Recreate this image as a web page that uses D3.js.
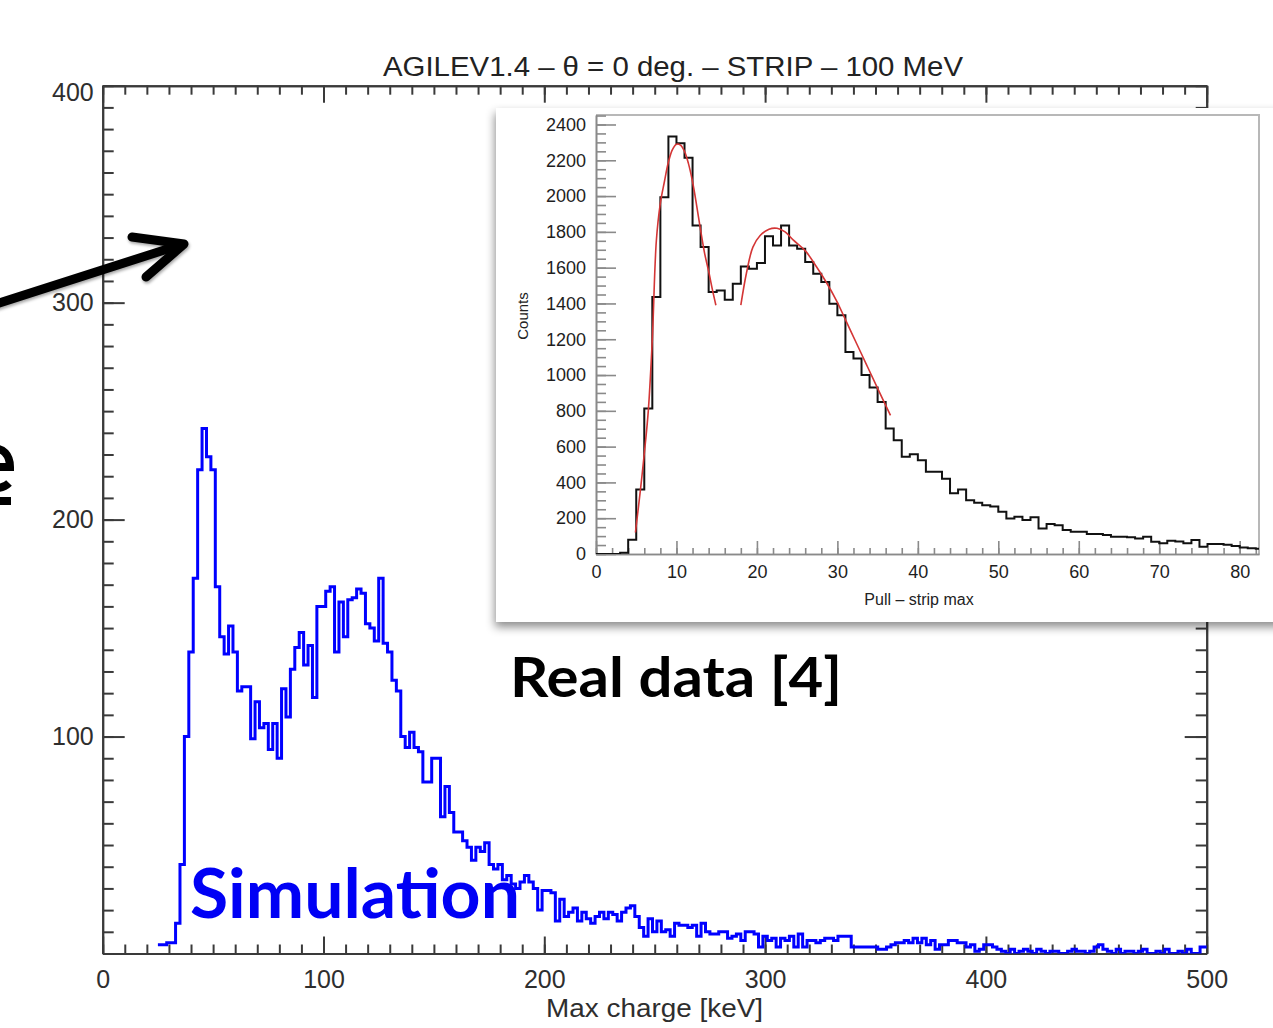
<!DOCTYPE html>
<html>
<head>
<meta charset="utf-8">
<script src="https://cdn.jsdelivr.net/npm/d3@7"></script>
<style>
  body { margin: 0; background: #fff; }
</style>
</head>
<body>
<svg id="chart" width="1273" height="1028"></svg>
<script>

// simulation histogram: bins of 2 keV starting at 25 keV
const simStart = 25
const simBin = 2
const simCounts = [
  4, 4, 5, 5, 14, 41, 100, 139, 173, 223,
  242, 229, 223, 169, 146, 138, 151, 139, 121, 123,
  123, 99, 116, 104, 106, 94, 106, 90, 122, 109,
  131, 141, 148, 133, 142, 118, 160, 160, 167, 169,
  139, 162, 146, 163, 164, 168, 166, 152, 150, 144,
  173, 143, 139, 126, 121, 100, 95, 102, 95, 93,
  79, 79, 90, 90, 63, 77, 65, 56, 56, 52,
  49, 43, 49, 47, 51, 41, 39, 41, 34, 36,
  32, 30, 33, 36, 33, 30, 20, 29, 29, 28,
  15, 25, 17, 19, 21, 15, 19, 16, 14, 17,
  19, 16, 19, 18, 15, 19, 21, 22, 17, 12,
  8, 16, 10, 15, 10, 11, 8, 14, 13, 13,
  12, 13, 8, 14, 10, 9, 9, 10, 10, 7,
  8, 9, 6, 10, 10, 9, 3, 8, 6, 7,
  3, 7, 6, 8, 3, 9, 3, 6, 6, 5,
  6, 7, 7, 6, 8, 8, 8, 3, 3, 3,
  3, 3, 3, 2, 2, 3, 4, 5, 5, 6,
  5, 7, 5, 7, 4, 6, 2, 4, 4, 6,
  6, 5, 5, 3, 4, 1, 2, 4, 4, 3,
  2, 1, 0, 2, 0, 1, 2, 1, 0, 2,
  1, 0, 1, 1, 0, 0, 1, 2, 1, 1,
  0, 1, 3, 4, 2, 1, 0, 2, 0, 1,
  1, 0, 1, 2, 0, 0, 1, 0, 2, 0,
  0, 1, 0, 2, 0, 0, 3, 3
]

// real data (inset): bins of width 1 starting at 0
const realStart = 0
const realBin = 1
const realCounts = [
  0, 0, 0, 7, 80, 360, 813, 1436, 1994, 2333,
  2295, 2214, 1836, 1715, 1464, 1473, 1421, 1510, 1607, 1594,
  1626, 1775, 1724, 1836, 1724, 1706, 1631, 1566, 1520, 1399,
  1334, 1129, 1092, 1000, 930, 850, 701, 636, 543, 558,
  524, 459, 459, 420, 339, 361, 301, 286, 273, 265,
  236, 199, 208, 190, 205, 143, 167, 160, 134, 125,
  125, 112, 112, 106, 97, 97, 94, 87, 97, 69,
  60, 74, 70, 60, 78, 41, 56, 56, 52, 45,
  37, 32, 30
]

// red fit curves
const fit1X = [4.9, 5.5, 6.0, 6.5, 7.0, 7.5, 8.0, 8.5, 9.0, 9.5, 10.0, 10.5, 11.0, 11.5, 12.0, 12.5, 13.0, 13.5, 14.0, 14.5, 14.9]
const fit1Y = [120, 350, 560, 800, 1200, 1750, 1960, 2080, 2190, 2260, 2290, 2285, 2250, 2180, 2080, 1950, 1810, 1680, 1580, 1470, 1390]
const fit2X = [18.0, 18.7, 19.5, 20.4, 21.5, 22.5, 23.5, 24.5, 26.0, 27.4, 28.6, 29.9, 31.1, 32.4, 33.6, 34.9, 36.6]
const fit2Y = [1390, 1570, 1715, 1780, 1815, 1820, 1800, 1755, 1695, 1605, 1520, 1415, 1300, 1175, 1060, 935, 775]

// tick labels
const mainXTicks = [0, 100, 200, 300, 400, 500]
const mainYTicks = [100, 200, 300, 400]
const insetXTicks = [0, 10, 20, 30, 40, 50, 60, 70, 80]
const insetYTicks = [0, 200, 400, 600, 800, 1000, 1200, 1400, 1600, 1800, 2000, 2200, 2400]

const titleText = "AGILEV1.4 \u2013 \u03B8 = 0 deg. \u2013 STRIP \u2013 100 MeV"
const xTitleText = "Max charge [keV]"

var svg = d3.select("#chart")
var axisColor = "#3a3a3a"
var labelFont = "'Liberation Sans', Arial, sans-serif"

svg.append("rect").attr("width", 1273).attr("height", 1028).attr("fill", "#fff")

var defs = svg.append("defs")
defs.append("filter").attr("id", "shadow")
  .attr("x", "-10%").attr("y", "-10%").attr("width", "130%").attr("height", "130%")
  .append("feDropShadow")
  .attr("dx", -1).attr("dy", 5).attr("stdDeviation", 5)
  .attr("flood-color", "#000").attr("flood-opacity", 0.45)
defs.append("filter").attr("id", "arrowShadow")
  .append("feDropShadow")
  .attr("dx", 1).attr("dy", 2).attr("stdDeviation", 1.5)
  .attr("flood-color", "#000").attr("flood-opacity", 0.35)

// ---------- main plot ----------
var x = d3.scaleLinear().domain([0, 500]).range([102.7, 1206.7])
var y = d3.scaleLinear().domain([0, 400]).range([953.5, 85.7])

defs.append("clipPath").attr("id", "mainClip")
  .append("rect")
  .attr("x", x(0)).attr("y", y(400))
  .attr("width", x(500) - x(0)).attr("height", y(0) - y(400))

var main = svg.append("g")

function styleAxis(g, size) {
  g.selectAll("path, line").attr("stroke", axisColor).attr("stroke-width", 2)
  g.selectAll("text")
    .attr("fill", "#2e2e2e")
    .style("font-family", labelFont)
    .style("font-size", size + "px")
}

// bottom
main.append("g").attr("transform", "translate(0," + y(0) + ")")
  .call(d3.axisBottom(x).tickValues(x.ticks(50)).tickSize(-9).tickSizeOuter(0).tickFormat(""))
  .call(styleAxis, 25)
main.append("g").attr("transform", "translate(0," + y(0) + ")")
  .call(d3.axisBottom(x).tickValues(mainXTicks).tickSize(-17).tickSizeOuter(0).tickPadding(17))
  .call(styleAxis, 25)
// top
main.append("g").attr("transform", "translate(0," + y(400) + ")")
  .call(d3.axisTop(x).tickValues(x.ticks(50)).tickSize(-9).tickSizeOuter(0).tickFormat(""))
  .call(styleAxis, 25)
main.append("g").attr("transform", "translate(0," + y(400) + ")")
  .call(d3.axisTop(x).tickValues(mainXTicks).tickSize(-17).tickSizeOuter(0).tickFormat(""))
  .call(styleAxis, 25)
// left
main.append("g").attr("transform", "translate(" + x(0) + ",0)")
  .call(d3.axisLeft(y).tickValues(y.ticks(40)).tickSize(-11).tickSizeOuter(0).tickFormat(""))
  .call(styleAxis, 25)
var yAxisG = main.append("g").attr("transform", "translate(" + x(0) + ",0)")
  .call(d3.axisLeft(y).tickValues(mainYTicks).tickSize(-22).tickSizeOuter(0).tickPadding(9))
  .call(styleAxis, 25)
// the top label sits a little below the frame corner
yAxisG.selectAll(".tick text").filter(function(d) { return d === 400 }).attr("dy", "0.6em")
// right
main.append("g").attr("transform", "translate(" + x(500) + ",0)")
  .call(d3.axisRight(y).tickValues(y.ticks(40)).tickSize(-11).tickSizeOuter(0).tickFormat(""))
  .call(styleAxis, 25)
main.append("g").attr("transform", "translate(" + x(500) + ",0)")
  .call(d3.axisRight(y).tickValues(mainYTicks).tickSize(-22).tickSizeOuter(0).tickFormat(""))
  .call(styleAxis, 25)

// titles
svg.append("text")
  .attr("x", 383).attr("y", 76)
  .attr("textLength", 580).attr("lengthAdjust", "spacingAndGlyphs")
  .style("font-family", labelFont).style("font-size", "27px")
  .attr("fill", "#222")
  .text(titleText)

svg.append("text")
  .attr("x", 546).attr("y", 1017)
  .attr("textLength", 217).attr("lengthAdjust", "spacingAndGlyphs")
  .style("font-family", labelFont).style("font-size", "26px")
  .attr("fill", "#2e2e2e")
  .text(xTitleText)

// simulation histogram
var simPts = simCounts.map(function(c, i) { return [simStart + i * simBin, c] })
simPts.push([simStart + simCounts.length * simBin, simCounts[simCounts.length - 1]])

var simLine = d3.line()
  .x(function(d) { return x(d[0]) })
  .y(function(d) { return y(d[1]) })
  .curve(d3.curveStepAfter)

main.append("path")
  .datum(simPts)
  .attr("clip-path", "url(#mainClip)")
  .attr("fill", "none")
  .attr("stroke", "#0000ff")
  .attr("stroke-width", 3)
  .attr("d", simLine)

svg.append("text")
  .attr("x", 190).attr("y", 918)
  .attr("textLength", 330).attr("lengthAdjust", "spacingAndGlyphs")
  .style("font-family", "Lato, 'Open Sans', sans-serif")
  .style("font-weight", 700).style("font-size", "68px")
  .attr("fill", "#0000f5")
  .text("Simulation")

// ---------- inset (real data) ----------
var inset = svg.append("g")

inset.append("rect")
  .attr("x", 496).attr("y", 108)
  .attr("width", 800).attr("height", 514)
  .attr("fill", "#fff")
  .attr("filter", "url(#shadow)")

var ix = d3.scaleLinear().domain([0, 82.4]).range([596, 1259])
var iy = d3.scaleLinear().domain([0, 2453]).range([554, 115])

defs.append("clipPath").attr("id", "insetClip")
  .append("rect")
  .attr("x", ix(0)).attr("y", iy(2453))
  .attr("width", ix(82.4) - ix(0)).attr("height", iy(0) - iy(2453))

// frame top and right (light)
inset.append("path")
  .attr("d", "M" + ix(0) + "," + iy(2453) + "H" + ix(82.4) + "V" + iy(0))
  .attr("fill", "none").attr("stroke", "#b8b8b8").attr("stroke-width", 2)

var insetAxisColor = "#8a8a8a"
function styleInset(g) {
  g.selectAll("path, line").attr("stroke", insetAxisColor).attr("stroke-width", 1.6)
  g.selectAll("text")
    .attr("fill", "#1e1e1e")
    .style("font-family", labelFont)
    .style("font-size", "18px")
}

inset.append("g").attr("transform", "translate(0," + iy(0) + ")")
  .call(d3.axisBottom(ix).tickValues(d3.range(0, 83, 2)).tickSize(-6).tickSizeOuter(0).tickFormat(""))
  .call(styleInset)
inset.append("g").attr("transform", "translate(0," + iy(0) + ")")
  .call(d3.axisBottom(ix).tickValues(insetXTicks).tickSize(-13).tickSizeOuter(0).tickPadding(11).tickFormat(d3.format("d")))
  .call(styleInset)
inset.append("g").attr("transform", "translate(" + ix(0) + ",0)")
  .call(d3.axisLeft(iy).tickValues(iy.ticks(48)).tickSize(-10).tickSizeOuter(0).tickFormat(""))
  .call(styleInset)
inset.append("g").attr("transform", "translate(" + ix(0) + ",0)")
  .call(d3.axisLeft(iy).tickValues(insetYTicks).tickSize(-20).tickSizeOuter(0).tickPadding(10).tickFormat(d3.format("d")))
  .call(styleInset)

inset.append("text")
  .attr("transform", "translate(528,316) rotate(-90)")
  .attr("text-anchor", "middle")
  .style("font-family", labelFont).style("font-size", "15px")
  .attr("fill", "#222")
  .text("Counts")

inset.append("text")
  .attr("x", 919).attr("y", 605)
  .attr("text-anchor", "middle")
  .style("font-family", labelFont).style("font-size", "16px")
  .attr("fill", "#222")
  .text("Pull \u2013 strip max")

var realPts = realCounts.map(function(c, i) { return [realStart + i * realBin, c] })
realPts.push([realStart + realCounts.length * realBin, realCounts[realCounts.length - 1]])

inset.append("path")
  .datum(realPts)
  .attr("clip-path", "url(#insetClip)")
  .attr("fill", "none")
  .attr("stroke", "#111")
  .attr("stroke-width", 2)
  .attr("d", d3.line()
    .x(function(d) { return ix(d[0]) })
    .y(function(d) { return iy(d[1]) })
    .curve(d3.curveStepAfter))

var fitLine = d3.line()
  .x(function(d) { return ix(d[0]) })
  .y(function(d) { return iy(d[1]) })
  .curve(d3.curveCatmullRom)

inset.selectAll(".fit")
  .data([d3.zip(fit1X, fit1Y), d3.zip(fit2X, fit2Y)])
  .enter().append("path")
  .attr("class", "fit")
  .attr("fill", "none")
  .attr("stroke", "#d43636")
  .attr("stroke-width", 1.6)
  .attr("d", fitLine)

svg.append("text")
  .attr("x", 510).attr("y", 697)
  .attr("textLength", 332).attr("lengthAdjust", "spacingAndGlyphs")
  .style("font-family", "Lato, 'Open Sans', sans-serif")
  .style("font-weight", 700).style("font-size", "56px")
  .attr("fill", "#000")
  .text("Real data [4]")

// ---------- annotations ----------
var arrow = svg.append("g").attr("filter", "url(#arrowShadow)")
  .attr("stroke", "#000").attr("stroke-width", 9)
  .attr("stroke-linecap", "round").attr("stroke-linejoin", "round")
  .attr("fill", "none")
arrow.append("path").attr("d", "M-10,306 L180,245")
arrow.append("path").attr("d", "M132,237 L184,244 L146,277")

// fragment of a slide letter cut by the left edge (drawn as a shape)
var frag = svg.append("g").attr("stroke", "#000").attr("fill", "none")
frag.append("path").attr("stroke-width", 8)
  .attr("d", "M-8,449 C3,447 10,455 10,467 H-8")
frag.append("path").attr("stroke-width", 8)
  .attr("d", "M-8,487 C0,489 5,487 9,483")
frag.append("rect")
  .attr("x", 0).attr("y", 497).attr("width", 11).attr("height", 8)
  .attr("stroke", "none").attr("fill", "#000")

</script>
</body>
</html>
